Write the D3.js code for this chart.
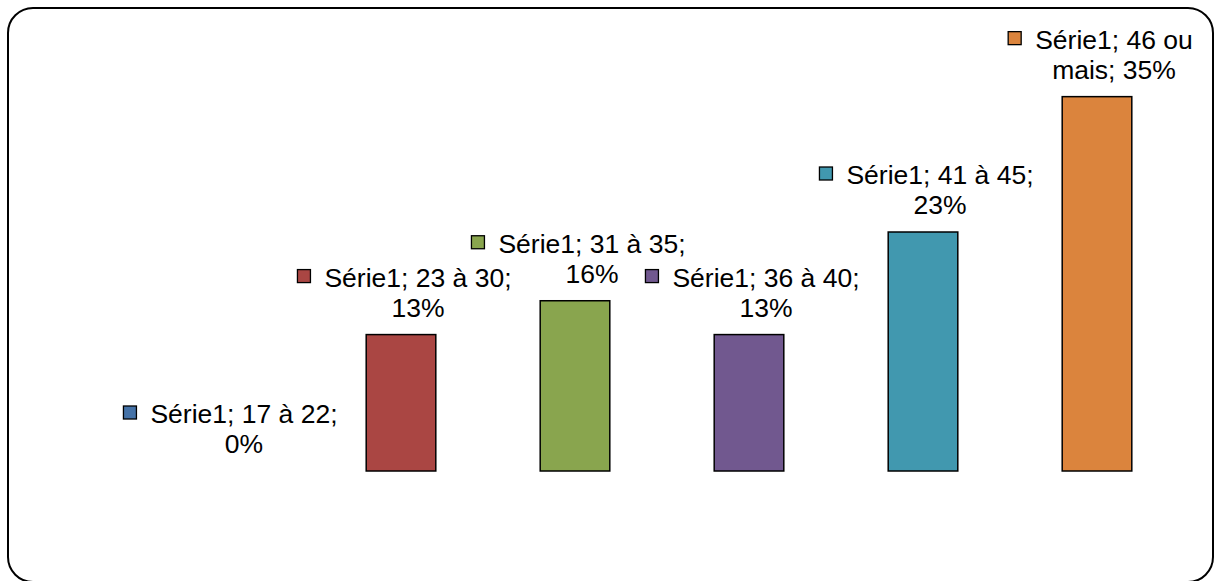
<!DOCTYPE html>
<html>
<head>
<meta charset="utf-8">
<script src="https://cdn.jsdelivr.net/npm/d3@7"></script>
<style>
  body { margin: 0; background: #fff; }
  svg { display: block; font-family: "Liberation Sans", Arial, sans-serif; }
</style>
</head>
<body>
<script>
// data (31 answers in total)
const seriesName = "Série1";
const categories = ["17 à 22", "23 à 30", "31 à 35", "36 à 40", "41 à 45", "46 ou mais"];
const values = [0, 0.129, 0.161, 0.129, 0.226, 0.354];
const colors = ["#4572A7", "#AA4643", "#89A54E", "#71588F", "#4198AF", "#DB843D"];

const width = 1216, height = 581;
const fontSize = 26.5, lineHeight = 30;
const wrapWidth = 198;

const data = categories.map((c, i) => ({cat: c, value: values[i], color: colors[i]}));

const svg = d3.select("body").append("svg")
  .attr("width", width)
  .attr("height", height);

// chart border with rounded corners
svg.append("rect")
  .attr("x", 8).attr("y", 8)
  .attr("width", 1205).attr("height", 574)
  .attr("rx", 25).attr("ry", 25)
  .attr("fill", "#fff")
  .attr("stroke", "#000")
  .attr("stroke-width", 2);

const x = d3.scaleBand()
  .domain(categories)
  .range([140, 1184])
  .paddingInner(0.6)
  .paddingOuter(0.3);

const y = d3.scaleLinear()
  .domain([0, 0.4])
  .range([471, 48]);

svg.selectAll(".bar")
  .data(data)
  .enter()
  .append("rect")
    .attr("class", "bar")
    .attr("x", d => x(d.cat))
    .attr("y", d => y(d.value))
    .attr("width", x.bandwidth())
    .attr("height", d => y(0) - y(d.value))
    .attr("fill", d => d.color)
    .attr("stroke", d => d.value > 0 ? "#000" : "none")
    .attr("stroke-width", 1.5);

// data labels: "Série1; cat; pct", word wrapped, legend key in front of first line
const fmt = d3.format(".0%");

data.forEach(d => {
  const cx = x(d.cat) + x.bandwidth() / 2;
  const words = `${seriesName}; ${d.cat}; ${fmt(d.value)}`.split(" ");
  const g = svg.append("g");
  const probe = g.append("text").attr("font-size", fontSize);
  let lines = [], cur = [];
  words.forEach(w => {
    const test = cur.concat([w]).join(" ");
    probe.text(test);
    if (probe.node().getComputedTextLength() > wrapWidth && cur.length) {
      lines.push(cur.join(" "));
      cur = [w];
    } else {
      cur.push(w);
    }
  });
  lines.push(cur.join(" "));
  probe.remove();

  const lastBase = y(d.value) - 18;
  const textCx = cx + 17;
  lines.forEach((ln, i) => {
    const t = g.append("text")
      .attr("x", textCx)
      .attr("y", lastBase - (lines.length - 1 - i) * lineHeight)
      .attr("text-anchor", "middle")
      .attr("font-size", fontSize)
      .attr("fill", "#000")
      .text(ln);
    if (i === 0) {
      const w = t.node().getComputedTextLength();
      g.append("rect")
        .attr("x", textCx - w / 2 - 27)
        .attr("y", lastBase - (lines.length - 1) * lineHeight - 17)
        .attr("width", 13).attr("height", 13)
        .attr("fill", d.color)
        .attr("stroke", "#000")
        .attr("stroke-width", 1.3);
    }
  });
});
</script>
</body>
</html>
